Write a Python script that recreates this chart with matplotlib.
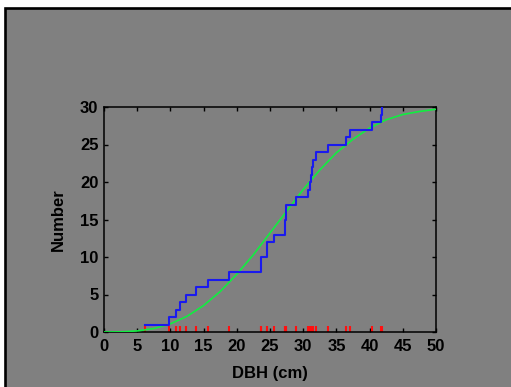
import matplotlib
matplotlib.use("Agg")
import matplotlib.pyplot as plt
from matplotlib.patches import Rectangle
import numpy as np

dbh = [6.1, 9.8, 10.9, 11.5, 12.4, 13.8, 15.7, 18.9, 23.6, 23.7,
       24.5, 24.6, 25.6, 27.2, 27.3, 27.35, 27.4, 28.9, 30.7, 31.0,
       31.1, 31.3, 31.5, 32.0, 33.8, 36.4, 37.0, 40.3, 41.7, 41.9]
counts = list(range(1, len(dbh) + 1))

# fitted cumulative curve, read at 2.5 cm steps
fit_x = [0, 2.5, 5, 7.5, 10, 12.5, 15, 17.5, 20, 22.5, 25,
         27.5, 30, 32.5, 35, 37.5, 40, 42.5, 45, 47.5, 50]
fit_y = [0, 0.02, 0.14, 0.46, 1.09, 2.09, 3.53, 5.4, 7.7, 10.3, 13.2,
         16.1, 19.0, 21.6, 23.9, 25.7, 27.2, 28.3, 29.0, 29.4, 29.7]

xticks = [0, 5, 10, 15, 20, 25, 30, 35, 40, 45, 50]
yticks = [0, 5, 10, 15, 20, 25, 30]

grey = '#808080'
plt.rcParams['font.family'] = ['Liberation Sans', 'DejaVu Sans']
plt.rcParams['font.weight'] = 'bold'

W, H = 511, 387
fig = plt.figure(figsize=(W / 100, H / 100), dpi=100, facecolor='white')

# grey panel with black frame on top/left edges
fig.patches.append(Rectangle((4.5 / W, -0.2), 1.5, 1.2 - 8.5 / H,
                             transform=fig.transFigure, facecolor=grey,
                             edgecolor='black', linewidth=1.9, zorder=-10))

ax = fig.add_axes([104 / W, 1 - 332 / H, 332 / W, 225 / H])
ax.set_facecolor(grey)

ax.vlines(dbh, 0, 0.85, color='#ff1010', linewidth=1.5, zorder=2)
ax.plot(fit_x, fit_y, color='#10ee40', linewidth=1.2, zorder=3)
ax.step(dbh, counts, where='post', color='#1a1aee', linewidth=1.5, zorder=4)

ax.set_xlim(0, 50)
ax.set_ylim(0, 30)
ax.set_xticks(xticks)
ax.set_yticks(yticks)
ax.tick_params(direction='in', length=3, width=1, top=True, right=True,
               labelsize=12, colors='black')
ax.tick_params(axis='x', pad=5)
ax.tick_params(axis='y', pad=4)
for s in ax.spines.values():
    s.set_linewidth(1.1)

ax.set_xlabel('DBH (cm)', fontsize=12, fontweight='bold', labelpad=9)
ax.set_ylabel('Number', fontsize=12, fontweight='bold', labelpad=10)

fig.savefig('out.png', dpi=100, facecolor='white')
